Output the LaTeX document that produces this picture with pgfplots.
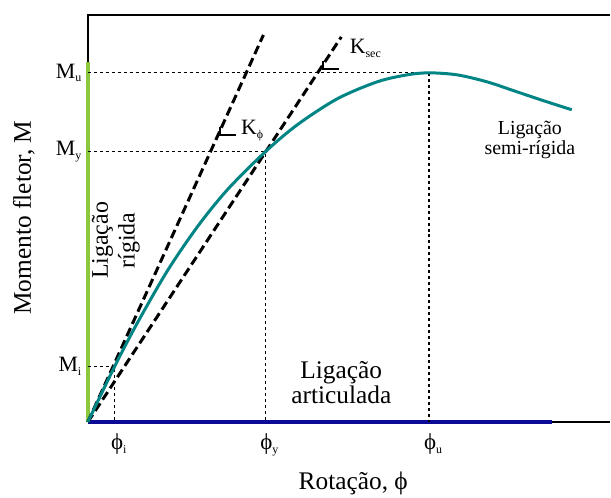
\documentclass[border=0pt]{standalone}
\usepackage{pgfplots}
\pgfplotsset{compat=1.18}
\usepackage{fontspec}
\setmainfont{Liberation Serif}
\definecolor{curvecol}{RGB}{0,132,132}
\definecolor{greenax}{RGB}{140,198,63}
\definecolor{blueax}{RGB}{10,10,150}
\newcommand{\sub}[1]{\raisebox{-0.35ex}{\fontsize{12}{12}\selectfont #1}}
\begin{document}
\begin{tikzpicture}
\begin{axis}[hide axis, scale only axis, width=523bp, height=408bp,
  xmin=0, xmax=523, ymin=0, ymax=408, clip=false]
% frame
\addplot[black, line width=2.6bp] coordinates {(0,361) (0,408) (523,408)};
\addplot[black, line width=2.6bp] coordinates {(465,0) (523,0)};
\addplot[greenax, line width=3.6bp] coordinates {(0,0) (0,361)};
\addplot[blueax, line width=3.6bp] coordinates {(0,0) (465,0)};
% dotted guides
\addplot[black, line width=1.3bp, dash pattern=on 3bp off 3bp] coordinates {(0,350) (342,350) (342,0)};
\addplot[black, line width=1.3bp, dash pattern=on 3bp off 3bp] coordinates {(0,271) (178,271) (178,0)};
\addplot[black, line width=1.3bp, dash pattern=on 3bp off 3bp] coordinates {(0,56) (27,56) (27,0)};
% tangent and secant
\addplot[black, line width=3bp, dash pattern=on 9bp off 4.5bp] coordinates {(0,0) (176,388)};
\addplot[black, line width=3bp, dash pattern=on 9bp off 4.5bp] coordinates {(0,0) (254,386)};
% curve
\addplot[curvecol, line width=3bp, smooth] coordinates {
(0,0) (27,56) (50,100) (80,152) (110,196) (140,233) (178,271) (210,298)
(250,324) (290,341) (320,348) (342,350) (370,348) (400,341) (430,331)
(460,321) (485,313)};
% angle markers
\addplot[black, line width=2bp] coordinates {(132,296) (132,288) (149,288)};
\addplot[black, line width=2bp] coordinates {(236,362) (236,354) (252,354)};
% labels
\node[anchor=east, font=\fontsize{22}{24}\selectfont] at (axis cs:-3,350) {M\sub{u}};
\node[anchor=east, font=\fontsize{22}{24}\selectfont] at (axis cs:-3,271) {M\sub{y}};
\node[anchor=east, font=\fontsize{22}{24}\selectfont] at (axis cs:-3,56) {M\sub{i}};
\node[anchor=north, font=\fontsize{23}{24}\selectfont] at (axis cs:31,-8) {ϕ\sub{i}};
\node[anchor=north, font=\fontsize{23}{24}\selectfont] at (axis cs:182,-8) {ϕ\sub{y}};
\node[anchor=north, font=\fontsize{23}{24}\selectfont] at (axis cs:346,-8) {ϕ\sub{u}};
\node[font=\fontsize{25.5}{27}\selectfont] at (axis cs:266,-61) {Rotação, ϕ};
\node[rotate=90, font=\fontsize{25.5}{27}\selectfont] at (axis cs:-64,205) {Momento fletor, M};
\node[rotate=90, align=center, font=\fontsize{24}{27}\selectfont] at (axis cs:28,182) {Ligação\\rígida};
\node[align=center, font=\fontsize{25.5}{25}\selectfont] at (axis cs:254,40) {Ligação\\articulada};
\node[align=center, font=\fontsize{20}{20}\selectfont] at (axis cs:443,283) {Ligação\\semi-rígida};
\node[anchor=base west, font=\fontsize{22}{24}\selectfont] at (axis cs:150,288) {K\sub{ϕ}};
\node[anchor=base west, font=\fontsize{22}{24}\selectfont] at (axis cs:259,369) {K\sub{sec}};
\path (axis cs:-88,-72) rectangle (axis cs:523,423);
\end{axis}
\end{tikzpicture}
\end{document}
